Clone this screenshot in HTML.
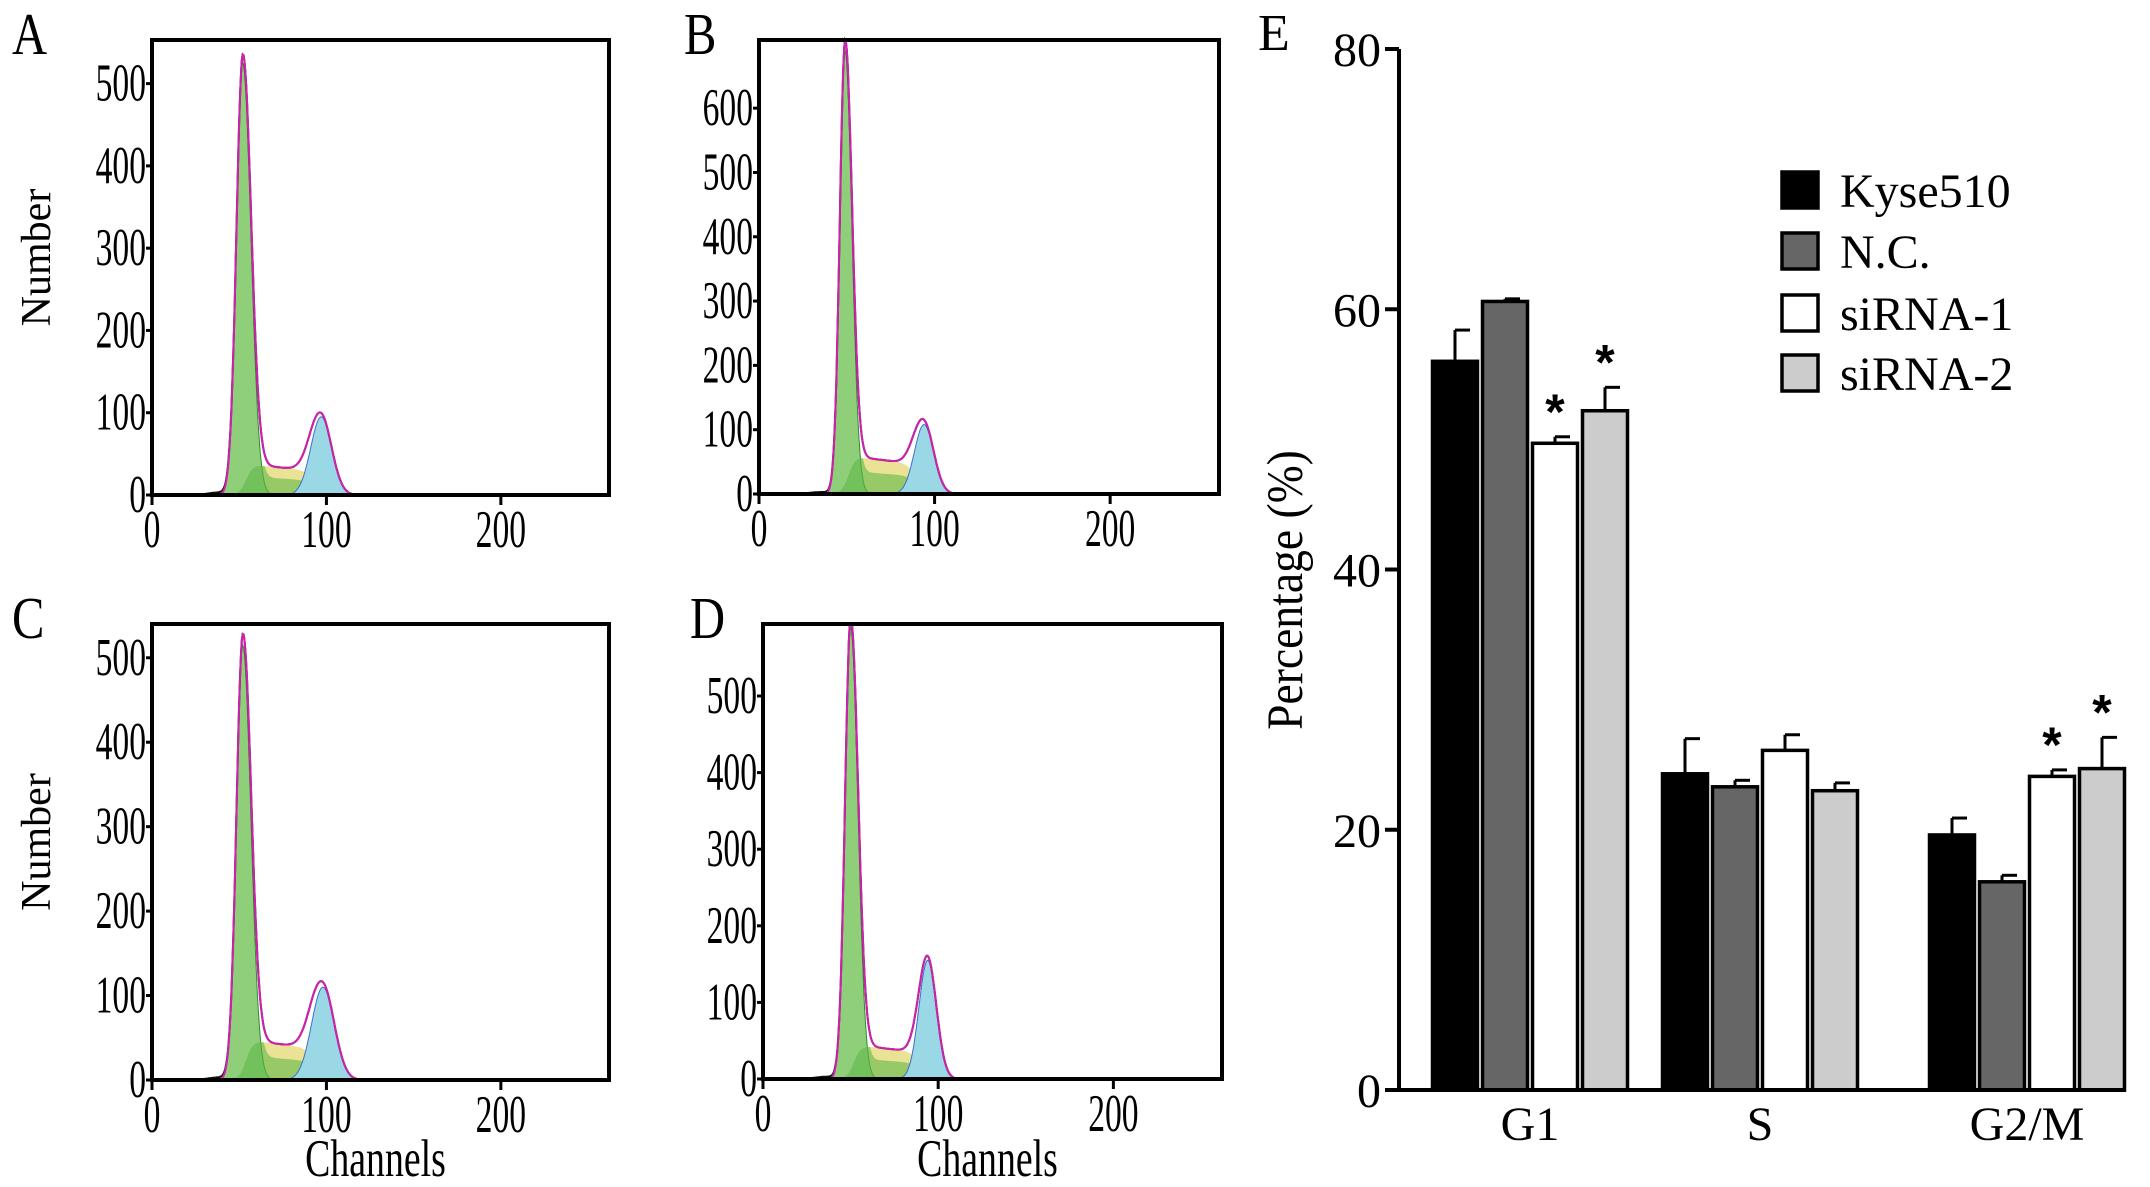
<!DOCTYPE html>
<html><head><meta charset="utf-8">
<style>
html,body{margin:0;padding:0;background:#fff;}
svg{display:block;font-family:"Liberation Serif",serif;}
</style></head>
<body>
<svg id="fig" width="2150" height="1187" viewBox="0 0 2150 1187" xmlns="http://www.w3.org/2000/svg"></svg>
<script>
// ---- Histogram panel data (peak parameters) ----
const panelNames = ["A","B","C","D"];
const g1Pos = [52, 49, 52, 50];
const g1Height = [525, 690, 515, 590];
const g1Sigma = [3.6, 3.0, 3.6, 3.2];
const g2Pos = [97, 94, 98, 94];
const g2Height = [95, 108, 110, 155];
const g2Sigma = [6, 5.5, 6.5, 5];
const sLevel = [38, 60, 48, 45];
const yMaxs = [553, 706, 540, 594];
const yTickSets = [[0,100,200,300,400,500],[0,100,200,300,400,500,600],[0,100,200,300,400,500],[0,100,200,300,400,500]];
const xTicks = [0, 100, 200];
// ---- Bar chart data ----
const phases = ["G1", "S", "G2/M"];
const groups = ["Kyse510", "N.C.", "siRNA-1", "siRNA-2"];
const kyseVals = [56.0, 24.3, 19.6];
const ncVals = [60.6, 23.3, 16.0];
const si1Vals = [49.7, 26.1, 24.1];
const si2Vals = [52.2, 23.0, 24.7];
const kyseErr = [2.4, 2.7, 1.3];
const ncErr = [0.2, 0.5, 0.5];
const si1Err = [0.5, 1.2, 0.5];
const si2Err = [1.8, 0.6, 2.4];
const sigMarks = [[false,false,true,true],[false,false,false,false],[false,false,true,true]];
const barTicks = [0, 20, 40, 60, 80];

const NS = "http://www.w3.org/2000/svg";
const svg = document.getElementById("fig");
function mk(tag, attrs, parent){
  const e = document.createElementNS(NS, tag);
  for (const k in attrs) e.setAttribute(k, attrs[k]);
  (parent||svg).appendChild(e);
  return e;
}
function txt(s, x, y, size, anchor, parent, sx, sy){
  const t = mk("text", {x:0, y:0, "font-size":size, "text-anchor":anchor||"middle", fill:"#000",
    transform:`translate(${x},${y}) scale(${sx||1},${sy||1})`}, parent);
  t.textContent = s;
  return t;
}

const frames = [
  {l:152, r:609, t:40, b:495},
  {l:759, r:1219, t:40, b:494},
  {l:152, r:609, t:624, b:1080},
  {l:763, r:1222, t:624, b:1079}
];
const letterX = [12, 684, 12, 690];
const xMaxCh = 262;

frames.forEach((f, i) => {
  const g = mk("g", {});
  
  
  const xs = c => f.l + (c / xMaxCh) * (f.r - f.l);
  const ys = v => f.b - (v / yMaxs[i]) * (f.b - f.t);
  const gauss = (c, p, h, s) => h * Math.exp(-0.5 * ((c - p) / s) ** 2);
  const sComp = c => {
    const a = g1Pos[i], b = g2Pos[i];
    const rise = 1 / (1 + Math.exp(-(c - a - 2) / 2.0));
    const fall = 1 / (1 + Math.exp((c - b + 4) / 2.5));
    return sLevel[i] * rise * fall * (1 - 0.25 * (c - a) / (b - a));
  };
  const cs = [];
  for (let c = 20; c <= 140; c += 0.5) cs.push(c);
  const areaPath = fn => {
    let d = `M${xs(cs[0])},${ys(0)}`;
    cs.forEach(c => { d += `L${xs(c).toFixed(1)},${ys(Math.min(fn(c), yMaxs[i])).toFixed(1)}`; });
    return d + `L${xs(cs[cs.length-1])},${ys(0)}Z`;
  };
  const g1 = c => gauss(c, g1Pos[i], g1Height[i], g1Sigma[i] * (c > g1Pos[i] ? 1.3 : 1));
  const g2 = c => gauss(c, g2Pos[i], g2Height[i], g2Sigma[i]);
  const s = sComp;
  const sumF = c => g1(c) + g2(c) + s(c);
  const sp = mk("path", {d: areaPath(s), fill: "#e8e08a", opacity: 0.9}, g);
  
  
  const gp = mk("path", {d: areaPath(g1), fill: "#8fcf7a", stroke: "#2e8b2e", "stroke-width": 1}, g);
  
  
  const ov = mk("path", {d: areaPath(c => Math.min(s(c), g1(c) + s(c) * 0.6)), fill: "#5fb84a", opacity: 0.6}, g);
  
  
  const g2p = mk("path", {d: areaPath(g2), fill: "#9ad8e6", stroke: "#4070c0", "stroke-width": 1}, g);
  
  
  let dl = "";
  cs.forEach((c, k) => { dl += (k ? "L" : "M") + xs(c).toFixed(1) + "," + ys(Math.min(sumF(c) + 3 * Math.exp(-0.5*((c-g1Pos[i]+14)/6)**2), yMaxs[i])).toFixed(1); });
  const dataLine = mk("path", {d: dl, fill: "none", stroke: "#111", "stroke-width": 2}, g);
  
  
  let dm = "";
  cs.forEach((c, k) => { dm += (k ? "L" : "M") + xs(c).toFixed(1) + "," + ys(Math.min(sumF(c), yMaxs[i])).toFixed(1); });
  const fitLine = mk("path", {d: dm, fill: "none", stroke: "#d020b0", "stroke-width": 2}, g);
  
  
  const fr = mk("rect", {x: f.l, y: f.t, width: f.r - f.l, height: f.b - f.t, fill: "none", stroke: "#000", "stroke-width": 4}, g);
  
  
  yTickSets[i].forEach(v => {
    const y = ys(v);
    mk("line", {x1: f.l - 6, x2: f.l, y1: y, y2: y, stroke: "#000", "stroke-width": 3}, g);
    const t = txt(String(v), f.l - 6, y + 17, 42, "end", g, 0.8, 1.25);
    
    
  });
  xTicks.forEach(v => {
    const x = xs(v);
    mk("line", {x1: x, x2: x, y1: f.b, y2: f.b + 10, stroke: "#000", "stroke-width": 3}, g);
    const t = txt(String(v), x, f.b + 52, 42, "middle", g, 0.8, 1.25);
    
    
  });
  const lt = txt(panelNames[i], letterX[i], f.t + 14, 54, "start", g, 0.9, 1.1);
  
  
  if (i % 2 === 0) {
    const yl = mk("text", {x: 0, y: 0, "font-size": 42, "text-anchor": "middle", transform: `translate(50,${(f.t + f.b) / 2 - 10}) rotate(-90)`}, g);
    yl.textContent = "Number";
    
    
  }
  if (i >= 2) {
    const xl = txt("Channels", (f.l + f.r) / 2 - 5, 1176, 42, "middle", g, 0.9, 1.25);
    
    
  }
});

// ---- Bar chart E ----
const E = {l: 1399, r: 2126, t: 49, b: 1090, yMax: 80};
const ge = mk("g", {});


const ey = v => E.b - (v / E.yMax) * (E.b - E.t);
const groupCenters = [1530, 1760, 2027];
const barW = 45, barStep = 50;
const series = [kyseVals, ncVals, si1Vals, si2Vals];
const errs = [kyseErr, ncErr, si1Err, si2Err];
const fills = ["#000", "#666", "#fff", "#cccccc"];
phases.forEach((ph, pi) => {
  series.forEach((vals, si) => {
    const cx = groupCenters[pi] + (si - 1.5) * barStep;
    const x = cx - barW / 2, top = ey(vals[pi]);
    const eTop = ey(vals[pi] + errs[si][pi]);
    const el = mk("line", {x1: cx, x2: cx, y1: top, y2: eTop, stroke: "#000", "stroke-width": 3}, ge);
    
    
    const ec = mk("line", {x1: cx, x2: cx + 15, y1: eTop, y2: eTop, stroke: "#000", "stroke-width": 3}, ge);
    
    
    const r = mk("rect", {x: x, y: top, width: barW, height: E.b - top, fill: fills[si], stroke: "#000", "stroke-width": 3.5}, ge);
    
    
    if (sigMarks[pi][si]) {
      const st = txt("*", cx, eTop - 8, 50, "middle", ge);
      st.setAttribute('font-family', '"Liberation Sans", sans-serif');
      st.setAttribute('font-weight', 'bold');
      
      
    }
  });
  const xl = txt(ph, groupCenters[pi], 1140, 48, "middle", ge);
  
  
});
const yAx = mk("line", {x1: E.l, x2: E.l, y1: E.t, y2: E.b, stroke: "#000", "stroke-width": 4}, ge);


const xAx = mk("line", {x1: E.l, x2: E.r, y1: E.b, y2: E.b, stroke: "#000", "stroke-width": 4}, ge);


barTicks.forEach(v => {
  mk("line", {x1: E.l - 14, x2: E.l, y1: ey(v), y2: ey(v), stroke: "#000", "stroke-width": 4}, ge);
  const t = txt(String(v), E.l - 18, ey(v) + 17, 48, "end", ge);
  
  
});
const yt = mk("text", {x: 0, y: 0, "font-size": 48, "text-anchor": "middle", transform: `translate(1302,590) rotate(-90) scale(0.95,1.05)`}, ge);
yt.textContent = "Percentage (%)";


const le = txt("E", 1258, 50, 52, "start", ge);


const legendRows = [190, 251, 313, 373];
groups.forEach((gname, gi) => {
  const lg = mk("g", {}, ge);
  
  
  mk("rect", {x: 1782, y: legendRows[gi] - 18, width: 36, height: 36, fill: fills[gi], stroke: "#000", "stroke-width": 3.5}, lg);
  txt(gname, 1840, legendRows[gi] + 17, 48, "start", lg);
});
</script>
</body></html>
